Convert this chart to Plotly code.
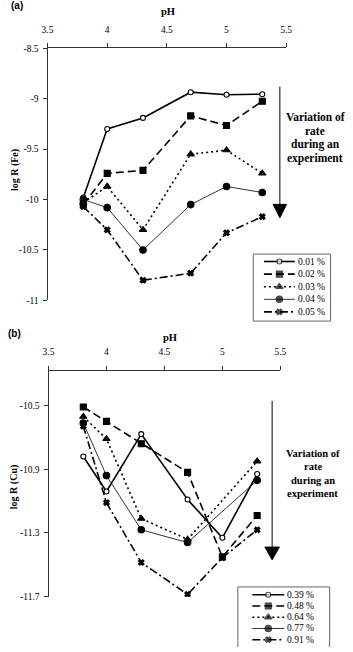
import plotly.graph_objects as go

W, H = 353, 652

# ---------------- data ----------------
ph = [3.8, 4.0, 4.3, 4.7, 5.0, 5.3]

fe_names = ["0.01 %", "0.02 %", "0.03 %", "0.04 %", "0.05 %"]
fe_001 = [-9.98, -9.30, -9.19, -8.935, -8.96, -8.955]
fe_002 = [-10.05, -9.74, -9.71, -9.17, -9.265, -9.025]
fe_003 = [-10.03, -9.87, -10.30, -9.55, -9.51, -9.74]
fe_004 = [-10.00, -10.08, -10.50, -10.05, -9.87, -9.93]
fe_005 = [-10.07, -10.30, -10.80, -10.73, -10.33, -10.17]
fe_series = [fe_001, fe_002, fe_003, fe_004, fe_005]

cu_names = ["0.39 %", "0.48 %", "0.64 %", "0.77 %", "0.91 %"]
cu_039 = [-10.82, -11.04, -10.68, -11.09, -11.33, -10.93]
cu_048 = [-10.51, -10.60, -10.74, -10.92, -11.45, -11.19]
cu_064 = [-10.57, -10.71, -11.21, -11.34, None, -10.85]
cu_077 = [-10.61, -10.94, -11.28, -11.36, None, -10.97]
cu_091 = [-10.63, -11.11, -11.485, -11.685, -11.455, -11.28]
cu_series = [cu_039, cu_048, cu_064, cu_077, cu_091]

x_tickvals = [3.5, 4, 4.5, 5, 5.5]
x_ticktext = ["3.5", "4", "4.5", "5", "5.5"]
fe_tickvals = [-8.5, -9, -9.5, -10, -10.5, -11]
fe_ticktext = ["-8.5", "-9", "-9.5", "-10", "-10.5", "-11"]
cu_tickvals = [-10.5, -10.9, -11.3, -11.7]
cu_ticktext = ["-10.5", "-10.9", "-11.3", "-11.7"]

arrow_text = ["Variation of", "rate", "during an", "experiment"]

# ---------------- styles ----------------
styles = [
    dict(dash="solid", width=1.6, symbol="circle", size=5, fill="white"),
    dict(dash="8px,4px", width=1.6, symbol="square", size=6, fill="black"),
    dict(dash="2px,3px", width=1.6, symbol="triangle-up", size=6.5, fill="black"),
    dict(dash="solid", width=0.8, symbol="circle", size=6.5, fill="black"),
    dict(dash="8px,3px,2px,3px", width=1.6, symbol="x", size=5, fill="black"),
]

SERIF = "Liberation Serif"
AXC = "#333333"

fig = go.Figure()
ann = []


def px_x(p):
    return p / W


def px_y(p):
    return 1 - p / H


# data traces
for i, (name, ys) in enumerate(zip(fe_names, fe_series)):
    s = styles[i]
    fig.add_trace(go.Scatter(
        x=ph, y=ys, name=name, mode="lines+markers", xaxis="x", yaxis="y",
        line=dict(color="black", width=s["width"], dash=s["dash"]),
        marker=dict(symbol=s["symbol"], size=s["size"], color=s["fill"],
                    line=dict(color="black", width=1.1)),
        connectgaps=True, showlegend=False))

for i, (name, ys) in enumerate(zip(cu_names, cu_series)):
    s = styles[i]
    fig.add_trace(go.Scatter(
        x=ph, y=ys, name=name, mode="lines+markers", xaxis="x2", yaxis="y2",
        line=dict(color="black", width=s["width"], dash=s["dash"]),
        marker=dict(symbol=s["symbol"], size=s["size"], color=s["fill"],
                    line=dict(color="black", width=1.1)),
        connectgaps=True, showlegend=False))


# legend samples on overlay pixel axis
def add_legend(names, x0, xm, x1, xt, y0, dy, fsize):
    for i, name in enumerate(names):
        s = styles[i]
        yy = y0 + dy * i
        fig.add_trace(go.Scatter(
            x=[x0, xm, x1], y=[yy, yy, yy], mode="lines+markers",
            xaxis="x3", yaxis="y3", showlegend=False, hoverinfo="skip",
            line=dict(color="black", width=s["width"], dash=s["dash"]),
            marker=dict(symbol=s["symbol"], size=[0, s["size"], 0], color=s["fill"],
                        line=dict(color="black", width=[0, 1.1, 0]))))
        ann.append(dict(x=xt, y=yy, xref="x3", yref="y3", text=name,
                        showarrow=False, xanchor="left", yanchor="middle",
                        font=dict(family=SERIF, size=fsize, color="black")))


add_legend(fe_names, 267, 283, 299, 300, 260.5, 12.8, 9.5)
add_legend(cu_names, 255, 271.5, 288, 289, 599, 11.4, 9.5)

shapes = [
    dict(type="rect", xref="x3", yref="y3", x0=256, x1=336, y0=253, y1=321,
         line=dict(color="#666666", width=1)),
    dict(type="rect", xref="x3", yref="y3", x0=240, x1=335, y0=591, y1=672,
         line=dict(color="#666666", width=1)),
    # arrows
    dict(type="line", xref="x3", yref="y3", x0=283.5, x1=283.5, y0=83, y1=205,
         line=dict(color="black", width=1)),
    dict(type="path", xref="x3", yref="y3", path="M 276.5 202.5 L 290.5 202.5 L 283.5 216 Z",
         fillcolor="black", line=dict(color="black", width=1)),
    dict(type="line", xref="x3", yref="y3", x0=275.5, x1=275.5, y0=402, y1=552,
         line=dict(color="black", width=1)),
    dict(type="path", xref="x3", yref="y3", path="M 268 550.5 L 283 550.5 L 275.5 563.5 Z",
         fillcolor="black", line=dict(color="black", width=1)),
]

for j, t in enumerate(arrow_text):
    ann.append(dict(x=320, y=114 + 14 * j, xref="x3", yref="y3", text="<b>%s</b>" % t,
                    showarrow=False, xanchor="center", yanchor="middle",
                    font=dict(family=SERIF, size=11.5, color="black")))
    ann.append(dict(x=317.5, y=455 + 13.7 * j, xref="x3", yref="y3", text="<b>%s</b>" % t,
                    showarrow=False, xanchor="center", yanchor="middle",
                    font=dict(family=SERIF, size=10.5, color="black")))

ann += [
    dict(x=11 / W, y=1.0, xref="paper", yref="paper", text="<b>(a)</b>", showarrow=False,
         xanchor="center", yanchor="middle",
         font=dict(family="Liberation Sans", size=10, color="black")),
    dict(x=9, y=334, xref="x3", yref="y3", text="<b>(b)</b>", showarrow=False,
         xanchor="center", yanchor="middle",
         font=dict(family="Liberation Sans", size=10, color="black")),
    dict(x=167.5, y=7, xref="x3", yref="y3", text="<b>pH</b>", showarrow=False,
         xanchor="center", yanchor="middle", font=dict(family=SERIF, size=10.5, color="black")),
    dict(x=170, y=338, xref="x3", yref="y3", text="<b>pH</b>", showarrow=False,
         xanchor="center", yanchor="middle", font=dict(family=SERIF, size=10.5, color="black")),
    dict(x=10, y=168, xref="x3", yref="y3", text="<b>log R (Fe)</b>", showarrow=False,
         textangle=-90, xanchor="center", yanchor="middle",
         font=dict(family=SERIF, size=10, color="black")),
    dict(x=9, y=490, xref="x3", yref="y3", text="<b>log R (Cu)</b>", showarrow=False,
         textangle=-90, xanchor="center", yanchor="middle",
         font=dict(family=SERIF, size=10, color="black")),
]

tickfont = dict(family=SERIF, size=9.5, color="black")

axis_common = dict(showgrid=False, zeroline=False, showline=True, linecolor=AXC,
                   linewidth=1, ticks="outside", ticklen=4, tickcolor=AXC,
                   tickfont=tickfont)

fig.update_layout(
    width=W, height=H, margin=dict(l=0, r=0, t=0, b=0),
    paper_bgcolor="white", plot_bgcolor="rgba(0,0,0,0)",
    showlegend=False,
    xaxis=dict(domain=[px_x(43), px_x(290)], range=[3.5, 5.5], side="top", anchor="y",
               tickvals=x_tickvals, ticktext=x_ticktext, ticklabelstandoff=7, **axis_common),
    yaxis=dict(domain=[px_y(300), px_y(44)], range=[-11, -8.5], anchor="x",
               tickvals=fe_tickvals, ticktext=fe_ticktext, ticklabelstandoff=2, **axis_common),
    xaxis2=dict(domain=[px_x(44), px_x(284)], range=[3.5, 5.5], side="top", anchor="y2",
                tickvals=x_tickvals, ticktext=x_ticktext, ticklabelstandoff=7, **axis_common),
    yaxis2=dict(domain=[px_y(601), px_y(372)], range=[-11.7, -10.286], anchor="x2",
                tickvals=cu_tickvals, ticktext=cu_ticktext, ticklabelstandoff=2, **axis_common),
    xaxis3=dict(domain=[0, 1], range=[0, W], visible=False, anchor="y3", fixedrange=True),
    yaxis3=dict(domain=[0, 1], range=[H, 0], visible=False, anchor="x3", fixedrange=True),
    shapes=shapes,
    annotations=ann,
)

fig.write_html("out.html")
